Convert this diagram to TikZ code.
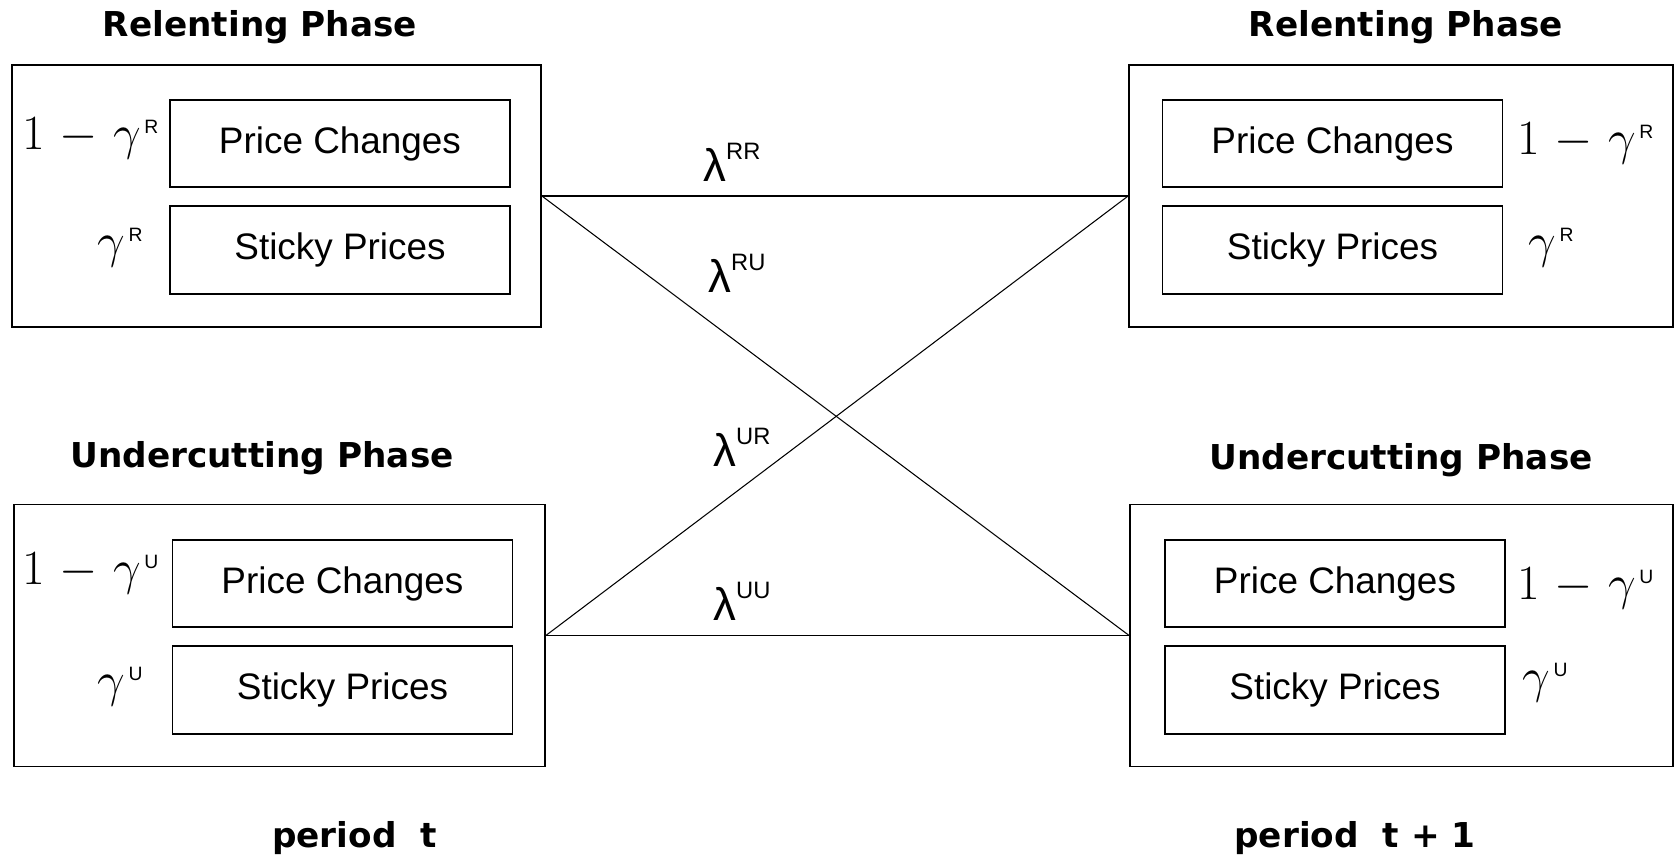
\RequirePackage{fix-cm}
\documentclass[tikz,border=0pt]{standalone}
\usepackage[no-math]{fontspec}
\setmainfont{Liberation Sans}
\newfontfamily\dejavu{DejaVu Sans}
\newcommand{\gsup}[1]{\hspace{2pt}\raisebox{9.5pt}{\fontsize{11}{12}\selectfont #1}}
\newcommand{\lsup}[1]{\raisebox{13pt}{\fontsize{13.5}{15}\selectfont #1}}
\tikzset{
phase/.style={draw, line width=1pt, minimum height=5.24cm, inner sep=0pt},
cell/.style={draw, line width=1pt, minimum width=6.8cm, minimum height=1.75cm, inner sep=0pt, font=\fontsize{21}{24}\selectfont},
title/.style={anchor=base, inner sep=0pt, font=\dejavu\bfseries\fontsize{19.5}{23}\selectfont},
prob/.style={anchor=base west, inner sep=0pt, font=\fontsize{28}{30}\selectfont},
trans/.style={anchor=base west, inner sep=0pt, font=\fontsize{26}{30}\selectfont},
link/.style={line width=1pt},
cross/.style={line width=0.6pt}
}
\begin{document}
\begin{tikzpicture}[scale=1]
\useasboundingbox (0,0) rectangle (33.5,17.2);
\node[phase, minimum width=10.58cm] (rt) at (5.53,13.28) {};
\node[phase, minimum width=10.88cm] (rn) at (28.02,13.28) {};
\node[phase, minimum width=10.62cm] (ut) at (5.59,4.49) {};
\node[phase, minimum width=10.86cm] (un) at (28.03,4.49) {};
\node[title] (rttitle) at (5.2,16.46) {Relenting Phase};
\node[title] (rntitle) at (28.12,16.46) {Relenting Phase};
\node[title] (uttitle) at (5.24,7.84) {Undercutting Phase};
\node[title] (untitle) at (28.02,7.8) {Undercutting Phase};
\node[cell] (rtchg) at (6.8,14.33) {Price Changes};
\node[cell] (rtsticky) at (6.8,12.2) {Sticky Prices};
\node[cell] (rnchg) at (26.65,14.33) {Price Changes};
\node[cell] (rnsticky) at (26.65,12.2) {Sticky Prices};
\node[cell] (utchg) at (6.85,5.53) {Price Changes};
\node[cell] (utsticky) at (6.85,3.4) {Sticky Prices};
\node[cell] (unchg) at (26.7,5.53) {Price Changes};
\node[cell] (unsticky) at (26.7,3.4) {Sticky Prices};
\node[prob] (rtp) at (0.44,14.2) {$1\mskip1.5mu-\mskip1.5mu\gamma$\gsup{R}};
\node[prob] (rtq) at (1.94,12.04) {$\gamma$\gsup{R}};
\node[prob] (rnp) at (30.34,14.1) {$1\mskip1.5mu-\mskip1.5mu\gamma$\gsup{R}};
\node[prob] (rnq) at (30.56,12.04) {$\gamma$\gsup{R}};
\node[prob] (utp) at (0.44,5.5) {$1\mskip1.5mu-\mskip1.5mu\gamma$\gsup{U}};
\node[prob] (utq) at (1.94,3.26) {$\gamma$\gsup{U}};
\node[prob] (unp) at (30.34,5.2) {$1\mskip1.5mu-\mskip1.5mu\gamma$\gsup{U}};
\node[prob] (unq) at (30.44,3.34) {$\gamma$\gsup{U}};
\draw[link] (rt.east) -- (rn.west);
\draw[link] (ut.east) -- (un.west);
\draw[cross] (rt.east) -- (un.west);
\draw[cross] (ut.east) -- (rn.west);
\foreach \x/\y/\s in {14.06/13.56/RR, 14.16/11.34/RU, 14.26/7.86/UR, 14.26/4.78/UU}
  \node[trans] (lam\s) at (\x,\y) {λ\lsup{\s}};
\node[title] (pt) at (7.09,0.24) {period\ \ t};
\node[title] (pn) at (27.1,0.24) {period\ \ t + 1};
\end{tikzpicture}
\end{document}
